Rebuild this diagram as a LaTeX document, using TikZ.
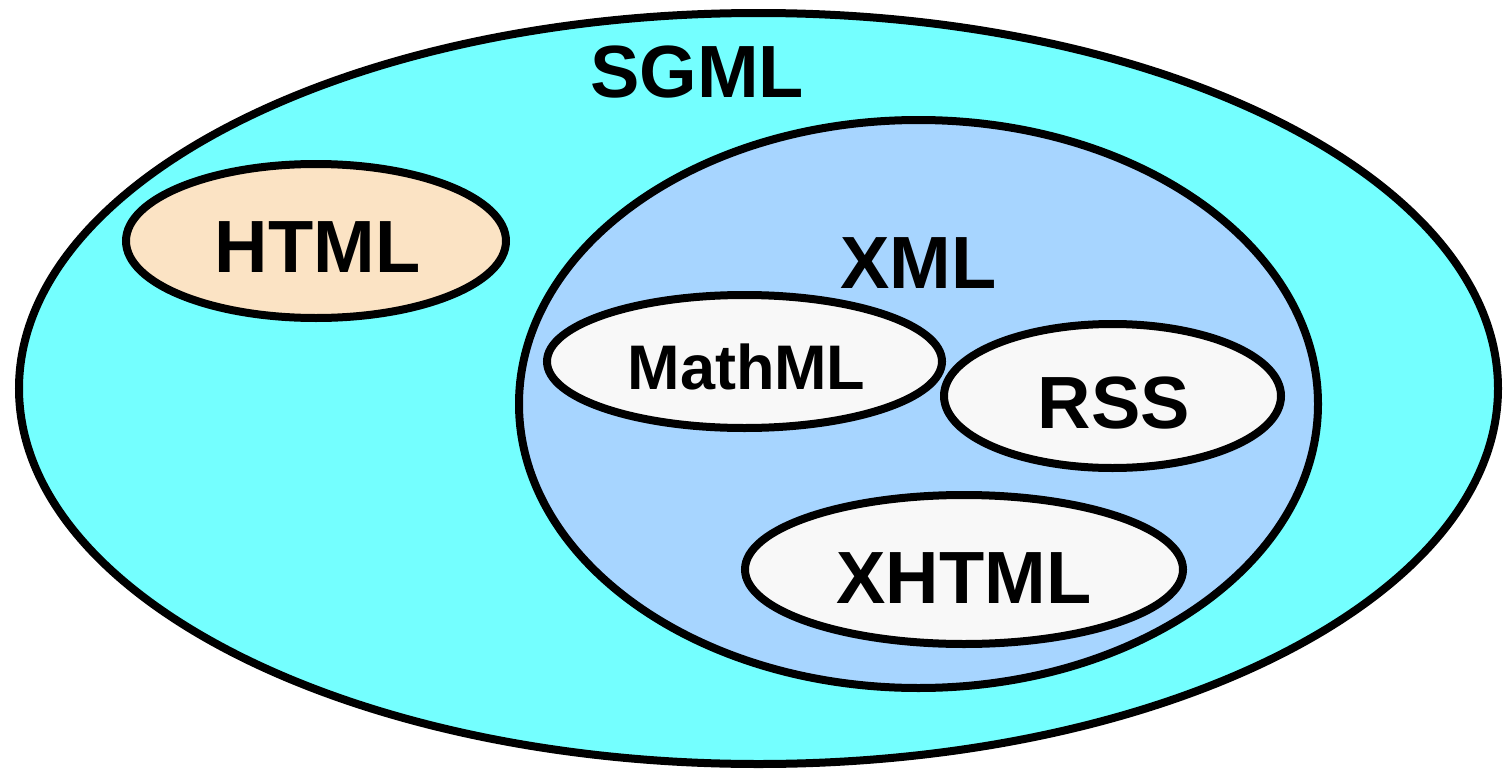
\documentclass[tikz,border=0pt]{standalone}
\usepackage{fontspec}
\setmainfont{Liberation Sans}
\usetikzlibrary{shapes.geometric}
\definecolor{sgmlcol}{HTML}{74FFFF}
\definecolor{xmlcol}{HTML}{A7D5FF}
\definecolor{htmlcol}{HTML}{FBE3C4}
\definecolor{leafcol}{HTML}{F8F8F8}
\tikzset{
  setbox/.style={ellipse, draw=black, line width=8pt, inner sep=0pt},
  bigtxt/.style={anchor=base, inner sep=0pt, font=\bfseries\fontsize{74}{80}\selectfont},
  smalltxt/.style={anchor=base, inner sep=0pt, font=\bfseries\fontsize{63}{70}\selectfont}
}
\begin{document}
\begin{tikzpicture}[x=1pt,y=-1pt]
\useasboundingbox (0,0) rectangle (1505,771);
\node[setbox, fill=sgmlcol, minimum width=1479pt, minimum height=751pt] (sgml) at (758.5,388.5) {};
\node[setbox, fill=xmlcol, minimum width=799pt, minimum height=568pt] (xml) at (918.5,404) {};
\node[setbox, fill=htmlcol, minimum width=380pt, minimum height=154pt] (html) at (316,241) {};
\node[setbox, fill=leafcol, minimum width=395pt, minimum height=133pt] (mathml) at (744.5,361.5) {};
\node[setbox, fill=leafcol, minimum width=337pt, minimum height=144pt] (rss) at (1112.5,396) {};
\node[setbox, fill=leafcol, minimum width=438pt, minimum height=149pt] (xhtml) at (964,569.5) {};
\node[bigtxt] (sgmltxt) at (697,97) {SGML};
\node[bigtxt] (htmltxt) at (317.5,272) {HTML};
\node[bigtxt] (xmltxt) at (918.5,288) {XML};
\node[smalltxt] (mathmltxt) at (746.5,389) {MathML};
\node[bigtxt] (rsstxt) at (1114,428) {RSS};
\node[bigtxt] (xhtmltxt) at (964,603) {XHTML};
\end{tikzpicture}
\end{document}
